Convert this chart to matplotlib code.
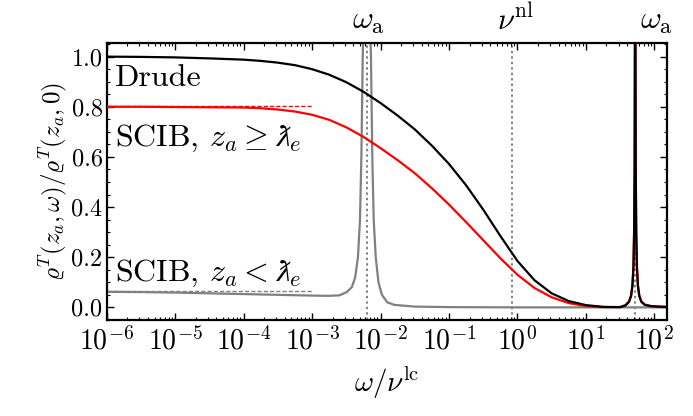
import numpy as np
import matplotlib
matplotlib.use("Agg")
import matplotlib.pyplot as plt
from matplotlib.ticker import LogLocator, MultipleLocator, NullFormatter, FormatStrFormatter

plt.rcParams['font.family'] = 'serif'
plt.rcParams['font.serif'] = ['cmr10']
plt.rcParams['mathtext.fontset'] = 'cm'
plt.rcParams['mathtext.fallback'] = 'stix'
plt.rcParams['axes.formatter.use_mathtext'] = True
plt.rcParams['axes.unicode_minus'] = True

# ---- data: log10(omega / nu^lc) and normalised value ----
drude_logw = [-6.0, -5.5, -5.0, -4.5, -4.0, -3.75, -3.5, -3.25, -3.0, -2.75, -2.5, -2.25, -2.0,
              -1.75, -1.5, -1.25, -1.0, -0.75, -0.5, -0.25, 0.0, 0.25, 0.5, 0.75, 1.0, 1.25,
              1.5, 1.58, 1.63, 1.66, 1.68, 1.695, 1.705, 1.712, 1.72, 1.728, 1.735, 1.745,
              1.76, 1.78, 1.81, 1.86, 1.95, 2.05, 2.18]
drude_val = [1.000, 0.999, 0.997, 0.993, 0.988, 0.983, 0.976, 0.966, 0.950, 0.928, 0.898, 0.860,
             0.815, 0.765, 0.710, 0.645, 0.572, 0.487, 0.390, 0.285, 0.185, 0.108, 0.056, 0.025,
             0.009, 0.002, 0.001, 0.008, 0.022, 0.045, 0.085, 0.160, 0.300, 0.550, 1.500,
             0.550, 0.300, 0.160, 0.085, 0.045, 0.022, 0.010, 0.005, 0.003, 0.002]

scib_ge_logw = [-6.0, -5.5, -5.0, -4.5, -4.0, -3.75, -3.5, -3.25, -3.0, -2.75, -2.5, -2.25, -2.0,
                -1.75, -1.5, -1.25, -1.0, -0.75, -0.5, -0.25, 0.0, 0.25, 0.5, 0.75, 1.0, 1.25,
                1.5, 1.58, 1.63, 1.66, 1.68, 1.695, 1.705, 1.712, 1.72, 1.728, 1.735, 1.745,
                1.76, 1.78, 1.81, 1.86, 1.95, 2.05, 2.18]
scib_ge_val = [0.800, 0.800, 0.799, 0.798, 0.797, 0.794, 0.789, 0.781, 0.768, 0.748, 0.718, 0.680,
               0.635, 0.587, 0.535, 0.475, 0.410, 0.340, 0.268, 0.196, 0.130, 0.077, 0.040, 0.017,
               0.005, 0.001, 0.001, 0.009, 0.024, 0.048, 0.090, 0.170, 0.320, 0.580, 1.500,
               0.580, 0.320, 0.170, 0.090, 0.048, 0.024, 0.011, 0.005, 0.003, 0.002]

scib_lt_logw = [-6.0, -5.5, -5.0, -4.5, -4.0, -3.5, -3.0, -2.75, -2.6, -2.5, -2.42, -2.37, -2.33,
                -2.30, -2.28, -2.26, -2.23, -2.20, -2.17, -2.14, -2.12, -2.10, -2.07, -2.03,
                -1.98, -1.9, -1.8, -1.5, -1.0, 0.0, 1.0, 2.18]
scib_lt_val = [0.062, 0.061, 0.059, 0.056, 0.053, 0.050, 0.047, 0.046, 0.048, 0.060, 0.080, 0.120,
               0.200, 0.350, 0.600, 1.000, 1.400, 1.600, 1.400, 1.000, 0.600, 0.350, 0.200, 0.100,
               0.050, 0.020, 0.010, 0.003, 0.001, 0.000, 0.000, 0.000]

# asymptotic (dashed) levels, drawn up to omega = 1e-3
asym_x = [1e-6, 1e-3]
asym_ge = 0.803
asym_lt = 0.065

# marked frequencies
omega_a_low = 10 ** -2.2
nu_nl = 10 ** -0.08
omega_a_high = 10 ** 1.72

fig = plt.figure(figsize=(6.93, 4.16), dpi=100)
ax = fig.add_axes([0.154, 0.231, 0.808, 0.666])

for xv in [omega_a_low, nu_nl, omega_a_high]:
    ax.axvline(xv, color='#808080', ls=(0, (1.2, 1.6)), lw=1.4, zorder=1)

ax.plot(np.power(10.0, scib_lt_logw), scib_lt_val, color='#808080', lw=1.6, zorder=2)
ax.plot(asym_x, [asym_lt, asym_lt], color='#808080', lw=1.0, ls=(0, (3, 1.5)), zorder=2)
ax.plot(np.power(10.0, scib_ge_logw), scib_ge_val, color='#ff0000', lw=1.6, zorder=3)
ax.plot(asym_x, [asym_ge, asym_ge], color='#ff0000', lw=1.0, ls=(0, (3, 1.5)), zorder=3)
ax.plot(np.power(10.0, drude_logw), drude_val, color='black', lw=1.6, zorder=4)

ax.set_xscale('log')
ax.set_xlim(1e-6, 10 ** 2.18)
ax.set_ylim(-0.05, 1.055)

ax.xaxis.set_major_locator(LogLocator(base=10, numticks=20))
ax.xaxis.set_minor_locator(LogLocator(base=10, subs=np.arange(2, 10), numticks=20))
ax.xaxis.set_minor_formatter(NullFormatter())
ax.yaxis.set_major_locator(MultipleLocator(0.2))
ax.yaxis.set_minor_locator(MultipleLocator(0.05))
ax.yaxis.set_major_formatter(FormatStrFormatter('%.1f'))

ax.tick_params(which='both', direction='in', top=True, right=True)
ax.tick_params(axis='x', labelsize=20, pad=5)
ax.tick_params(axis='y', labelsize=17.5, pad=3)
ax.tick_params(which='major', length=5, width=1.0)
ax.tick_params(which='minor', length=2.5, width=0.8)
for s in ax.spines.values():
    s.set_linewidth(1.6)

ax.set_xlabel(r'$\omega/\nu^{\rm lc}$', fontsize=21, labelpad=6)
ax.set_ylabel(r'$\varrho^T(z_a,\omega)/\varrho^T(z_a,0)$', fontsize=18, labelpad=2)

ax.text(1.3e-6, 0.915, 'Drude', fontsize=23, va='center', ha='left')
ax.text(1.3e-6, 0.675, r'SCIB, $z_a \geq \lambdabar_e$', fontsize=23, va='center', ha='left')
ax.text(1.3e-6, 0.135, r'SCIB, $z_a < \lambdabar_e$', fontsize=23, va='center', ha='left')

trans = matplotlib.transforms.blended_transform_factory(ax.transData, ax.transAxes)
ax.text(omega_a_low * 1.05, 1.025, r'$\omega_{\rm a}$', transform=trans, fontsize=23, ha='center', va='bottom')
ax.text(nu_nl * 1.1, 1.025, r'$\nu^{\rm nl}$', transform=trans, fontsize=22, ha='center', va='bottom')
ax.text(10 ** 2.03, 1.025, r'$\omega_{\rm a}$', transform=trans, fontsize=23, ha='center', va='bottom')

fig.savefig('out.png', dpi=100)
